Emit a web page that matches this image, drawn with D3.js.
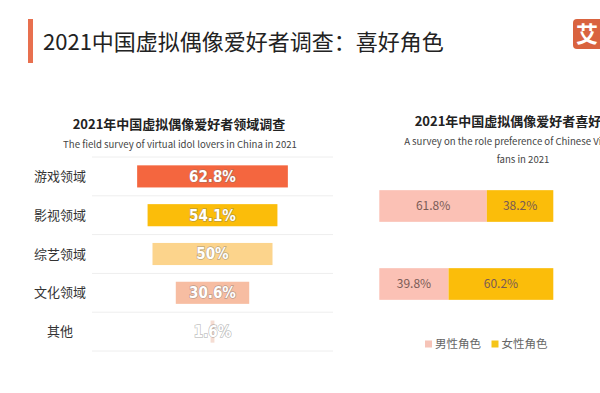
<!DOCTYPE html>
<html>
<head>
<meta charset="utf-8">
<script src="https://cdn.jsdelivr.net/npm/d3@7"></script>
<style>
  body { margin: 0; background: #fff; }
  svg { display: block; font-family: "Noto Sans CJK SC", "Noto Sans", sans-serif; }
</style>
</head>
<body>
<svg id="chart" width="600" height="393"></svg>
<script>
// left chart: field survey
var fields = ["游戏领域", "影视领域", "综艺领域", "文化领域", "其他"];
var fieldValues = [62.8, 54.1, 50, 30.6, 1.6];
var fieldColors = ["#f4663f", "#fbbd0a", "#fcd48c", "#f7bda2", "#f5ddd3"];

// right chart: role preference
var roleRows = ["第一组", "第二组"];
var maleValues = [61.8, 39.8];
var femaleValues = [38.2, 60.2];
var roleKeys = ["男性角色", "女性角色"];
var roleColors = ["#fbc1b5", "#fbbd0a"];

var svg = d3.select("#chart");

// page title
svg.append("rect")
    .attr("x", 28).attr("y", 19)
    .attr("width", 5).attr("height", 44)
    .attr("fill", "#e8704f");

svg.append("text")
    .attr("x", 43).attr("y", 50)
    .style("font-size", "22px")
    .style("fill", "#222")
    .text("2021中国虚拟偶像爱好者调查：喜好角色");

// logo
svg.append("rect")
    .attr("x", 573).attr("y", 19)
    .attr("width", 34).attr("height", 30)
    .attr("rx", 4)
    .attr("fill", "#d9633f");
svg.append("text")
    .attr("x", 587).attr("y", 42)
    .attr("text-anchor", "middle")
    .style("font-size", "22px")
    .style("font-weight", "bold")
    .style("fill", "#fff")
    .text("艾");

// ---------- left chart ----------
var leftCx = 212.5;

var x = d3.scaleLinear().domain([0, 100]).range([0, 240]);
var y = d3.scaleBand()
    .domain(fields)
    .range([157, 351])
    .paddingInner(0.43)
    .paddingOuter(0.215);

svg.append("text")
    .attr("x", 179).attr("y", 128.5)
    .attr("text-anchor", "middle")
    .style("font-size", "13px")
    .style("font-weight", "bold")
    .style("fill", "#222")
    .text("2021年中国虚拟偶像爱好者领域调查");

svg.append("text")
    .attr("x", 180).attr("y", 147.5)
    .attr("text-anchor", "middle")
    .style("font-size", "9.6px")
    .style("fill", "#444")
    .text("The field survey of virtual idol lovers in China in 2021");

// separator lines between rows
var step = y.step();
svg.selectAll(".sep")
    .data(d3.range(fields.length + 1))
    .enter().append("line")
    .attr("class", "sep")
    .attr("x1", 92).attr("x2", 333)
    .attr("y1", function(i) { return 157 + i * step; })
    .attr("y2", function(i) { return 157 + i * step; })
    .attr("stroke", "#eeeeee")
    .attr("stroke-width", 1);

var rows = svg.selectAll(".field")
    .data(fields)
    .enter().append("g")
    .attr("class", "field");

rows.append("text")
    .attr("x", 60)
    .attr("y", function(d) { return y(d) + y.bandwidth() / 2; })
    .attr("dy", "0.36em")
    .attr("text-anchor", "middle")
    .style("font-size", "13px")
    .style("fill", "#333")
    .text(function(d) { return d; });

rows.append("rect")
    .attr("x", function(d, i) { return leftCx - x(fieldValues[i]) / 2; })
    .attr("y", function(d) { return y(d); })
    .attr("width", function(d, i) { return x(fieldValues[i]); })
    .attr("height", y.bandwidth())
    .attr("fill", function(d, i) { return fieldColors[i]; });

rows.append("text")
    .attr("x", leftCx)
    .attr("y", function(d) { return y(d) + y.bandwidth() / 2; })
    .attr("dy", "0.36em")
    .attr("text-anchor", "middle")
    .style("font-family", "'DejaVu Sans Condensed', sans-serif")
    .style("font-size", "15px")
    .style("font-weight", "bold")
    .style("fill", "#fff")
    .style("stroke", "rgba(110,110,110,0.45)")
    .style("stroke-width", "1.4px")
    .style("paint-order", "stroke")
    .text(function(d, i) { return fieldValues[i] + "%"; });

// ---------- right chart ----------
var rightCx = 521;

svg.append("text")
    .attr("x", rightCx).attr("y", 126)
    .attr("text-anchor", "middle")
    .style("font-size", "13px")
    .style("font-weight", "bold")
    .style("fill", "#222")
    .text("2021年中国虚拟偶像爱好者喜好角色");

svg.append("text")
    .attr("x", rightCx + 2).attr("y", 145)
    .attr("text-anchor", "middle")
    .style("font-size", "9.6px")
    .style("fill", "#444")
    .text("A survey on the role preference of Chinese Virtual idol");

svg.append("text")
    .attr("x", rightCx + 2).attr("y", 162.5)
    .attr("text-anchor", "middle")
    .style("font-size", "9.6px")
    .style("fill", "#444")
    .text("fans in 2021");

var roleTable = roleRows.map(function(r, i) {
    var o = { row: r };
    o[roleKeys[0]] = maleValues[i];
    o[roleKeys[1]] = femaleValues[i];
    return o;
});

var stacked = d3.stack().keys(roleKeys)(roleTable);

var x2 = d3.scaleLinear().domain([0, 100]).range([379.3, 553.3]);
var y2 = d3.scaleBand()
    .domain(roleRows)
    .range([167, 323])
    .paddingInner(0.594)
    .paddingOuter(0.297);

var layer = svg.selectAll(".layer")
    .data(stacked)
    .enter().append("g")
    .attr("class", "layer")
    .attr("fill", function(d, i) { return roleColors[i]; });

layer.selectAll("rect")
    .data(function(d) { return d; })
    .enter().append("rect")
    .attr("x", function(d) { return x2(d[0]); })
    .attr("y", function(d) { return y2(d.data.row); })
    .attr("width", function(d) { return x2(d[1]) - x2(d[0]); })
    .attr("height", y2.bandwidth());

layer.selectAll(".lbl")
    .data(function(d) { return d; })
    .enter().append("text")
    .attr("class", "lbl")
    .attr("x", function(d) { return (x2(d[0]) + x2(d[1])) / 2; })
    .attr("y", function(d) { return y2(d.data.row) + y2.bandwidth() / 2; })
    .attr("dy", "0.36em")
    .attr("text-anchor", "middle")
    .style("font-size", "12px")
    .style("fill", "#7a5b55")
    .text(function(d) { return (d[1] - d[0]).toFixed(1) + "%"; });

// legend
var legendX = [425, 491.5];
var legend = svg.selectAll(".legend")
    .data(roleKeys)
    .enter().append("g")
    .attr("class", "legend")
    .attr("transform", function(d, i) { return "translate(" + legendX[i] + ",344)"; });

legend.append("rect")
    .attr("x", 0).attr("y", -3.5)
    .attr("width", 7).attr("height", 7)
    .attr("fill", function(d, i) { return i === 0 ? "#f6c4b8" : "#f5c518"; });

legend.append("text")
    .attr("x", 10)
    .attr("dy", "0.36em")
    .style("font-size", "11.5px")
    .style("fill", "#666")
    .text(function(d) { return d; });
</script>
</body>
</html>
